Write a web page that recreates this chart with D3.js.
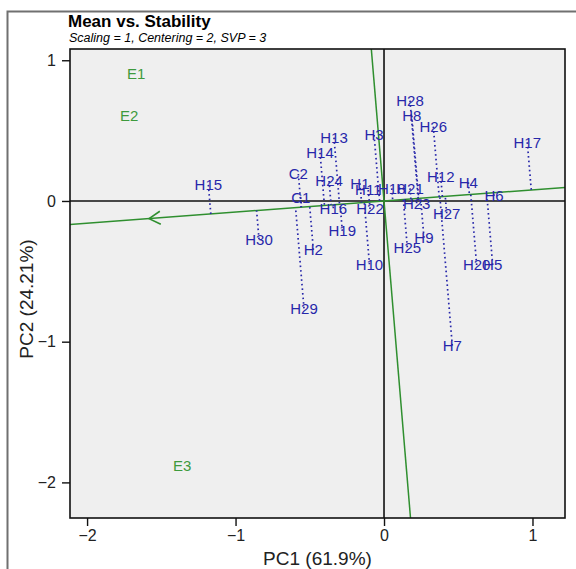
<!DOCTYPE html>
<html>
<head>
<meta charset="utf-8">
<script src="https://cdn.jsdelivr.net/npm/d3@7"></script>
<style>
  html, body { margin: 0; padding: 0; background: #fff; }
  svg { display: block; font-family: "Liberation Sans", Arial, sans-serif; }
</style>
</head>
<body>
<svg id="chart" width="576" height="569"></svg>
<script>
// ---- Data ----
const envNames = ["E1", "E2", "E3"];
const envPC1 = [-1.670, -1.717, -1.360];
const envPC2 = [0.903, 0.604, -1.883];

const genNames = ["H1","H2","H3","H4","H5","H6","H7","H8","H9","H10",
                  "H11","H12","H13","H14","H15","H16","H17","H18","H19","H20",
                  "H21","H22","H23","H24","H25","H26","H27","H28","H29","H30","C1","C2"];
const genPC1 = [-0.162,-0.476,-0.067,0.568,0.732,0.741,0.460,0.187,0.269,-0.098,
                -0.106,0.382,-0.337,-0.431,-1.183,-0.341,0.965,0.052,-0.281,0.624,
                0.175,-0.094,0.220,-0.370,0.157,0.332,0.422,0.175,-0.539,-0.842,-0.561,-0.577];
const genPC2 = [0.126,-0.348,0.469,0.133,-0.455,0.036,-1.028,0.606,-0.261,-0.450,
                0.078,0.173,0.450,0.343,0.114,-0.052,0.417,0.090,-0.213,-0.455,
                0.090,-0.057,-0.016,0.142,-0.329,0.528,-0.087,0.713,-0.763,-0.272,0.026,0.192];

const xTicks = [-2, -1, 0, 1];
const yTicks = [1, 0, -1, -2];
const xDomain = [-2.115, 1.219];
const yDomain = [1.080, -2.253];

const title = "Mean vs. Stability";
const subtitle = "Scaling = 1, Centering = 2, SVP = 3";
const xLabel = "PC1 (61.9%)";
const yLabel = "PC2 (24.21%)";

// ---- Layout ----
const svg = d3.select("#chart");
const P = { left: 70, right: 565, top: 49, bottom: 518 };
const x = d3.scaleLinear().domain(xDomain).range([P.left, P.right]);
const y = d3.scaleLinear().domain(yDomain).range([P.top, P.bottom]);

const GREEN = "#2f8f2f";
const GTEXT = "#3d9a3d";
const BLUE = "#2727aa";

// outer frame
svg.append("rect").attr("x", 7.5).attr("y", 11.5).attr("width", 620).attr("height", 620)
  .attr("fill", "none").attr("stroke", "#707070").attr("stroke-width", 2);

// title
svg.append("text").attr("x", 68).attr("y", 27).attr("font-size", 17).attr("font-weight", "bold")
  .attr("fill", "#000").text(title);
svg.append("text").attr("x", 69).attr("y", 41.5).attr("font-size", 12.5).attr("font-style", "italic")
  .attr("fill", "#000").text(subtitle);

// panel background
svg.append("rect").attr("x", P.left).attr("y", P.top)
  .attr("width", P.right - P.left).attr("height", P.bottom - P.top).attr("fill", "#efefef");

svg.append("defs").append("clipPath").attr("id", "clip").append("rect")
  .attr("x", P.left).attr("y", P.top).attr("width", P.right - P.left).attr("height", P.bottom - P.top);

const g = svg.append("g").attr("clip-path", "url(#clip)");

// axes through origin
g.append("line").attr("x1", P.left).attr("x2", P.right).attr("y1", y(0)).attr("y2", y(0))
  .attr("stroke", "#111").attr("stroke-width", 1.6);
g.append("line").attr("x1", x(0)).attr("x2", x(0)).attr("y1", P.top).attr("y2", P.bottom)
  .attr("stroke", "#111").attr("stroke-width", 1.6);

// average environment coordinate (AEA direction)
const avgX = d3.mean(envPC1), avgY = d3.mean(envPC2);
const len = Math.hypot(avgX, avgY);
const ux = -avgX / len, uy = -avgY / len; // unit vector pointing to +PC1 side
const big = 10;
g.append("line").attr("x1", x(-big * ux)).attr("y1", y(-big * uy)).attr("x2", x(big * ux)).attr("y2", y(big * uy))
  .attr("stroke", GREEN).attr("stroke-width", 1.5);
g.append("line").attr("x1", x(-big * -uy)).attr("y1", y(-big * ux)).attr("x2", x(big * -uy)).attr("y2", y(big * ux))
  .attr("stroke", GREEN).attr("stroke-width", 1.5);

// arrow head at average environment
const tipX = x(avgX), tipY = y(avgY);
const ang = Math.atan2(tipY - y(0), tipX - x(0));
const hl = 13, ha = Math.PI / 6;
const w1 = [tipX - hl * Math.cos(ang - ha), tipY - hl * Math.sin(ang - ha)];
const w2 = [tipX - hl * Math.cos(ang + ha), tipY - hl * Math.sin(ang + ha)];
g.append("path").attr("d", `M${w1[0]},${w1[1]}L${tipX},${tipY}L${w2[0]},${w2[1]}`)
  .attr("fill", "none").attr("stroke", GREEN).attr("stroke-width", 1.6);

// projection dotted lines
const gens = genNames.map((n, i) => ({ name: n, px: genPC1[i], py: genPC2[i] }));
gens.forEach(d => {
  const t = d.px * ux + d.py * uy;
  d.qx = t * ux; d.qy = t * uy;
});
g.selectAll("line.proj").data(gens).join("line").attr("class", "proj")
  .attr("x1", d => x(d.px)).attr("y1", d => y(d.py))
  .attr("x2", d => x(d.qx)).attr("y2", d => y(d.qy))
  .attr("stroke", BLUE).attr("stroke-width", 1.7)
  .attr("stroke-dasharray", "1.6,3");

// genotype labels
g.selectAll("text.gen").data(gens).join("text").attr("class", "gen")
  .attr("x", d => x(d.px)).attr("y", d => y(d.py)).attr("dy", "0.36em")
  .attr("text-anchor", "middle").attr("font-size", 15).attr("fill", BLUE)
  .text(d => d.name);

// environment labels
const envs = envNames.map((n, i) => ({ name: n, px: envPC1[i], py: envPC2[i] }));
g.selectAll("text.env").data(envs).join("text").attr("class", "env")
  .attr("x", d => x(d.px)).attr("y", d => y(d.py)).attr("dy", "0.36em")
  .attr("text-anchor", "middle").attr("font-size", 15).attr("fill", GTEXT)
  .text(d => d.name);

// panel border
svg.append("rect").attr("x", P.left).attr("y", P.top)
  .attr("width", P.right - P.left).attr("height", P.bottom - P.top)
  .attr("fill", "none").attr("stroke", "#111").attr("stroke-width", 1.6);

// axes
const fmt = d3.format("d");
const xAxis = svg.append("g").attr("transform", `translate(0,${P.bottom})`)
  .call(d3.axisBottom(x).tickValues(xTicks).tickFormat(fmt).tickSize(8).tickPadding(4));
const yAxis = svg.append("g").attr("transform", `translate(${P.left},0)`)
  .call(d3.axisLeft(y).tickValues(yTicks).tickFormat(fmt).tickSize(8).tickPadding(6));
[xAxis, yAxis].forEach(a => {
  a.select(".domain").remove();
  a.selectAll(".tick line").attr("stroke", "#111").attr("stroke-width", 1.4);
  a.selectAll(".tick text").attr("font-size", 16).attr("fill", "#222")
    .attr("font-family", "Liberation Sans, Arial, sans-serif");
});

// axis titles
svg.append("text").attr("x", (P.left + P.right) / 2).attr("y", 565).attr("text-anchor", "middle")
  .attr("font-size", 19).attr("fill", "#222").text(xLabel);
svg.append("text").attr("transform", "translate(33,299) rotate(-90)").attr("text-anchor", "middle")
  .attr("font-size", 19).attr("fill", "#222").text(yLabel);
</script>
</body>
</html>
